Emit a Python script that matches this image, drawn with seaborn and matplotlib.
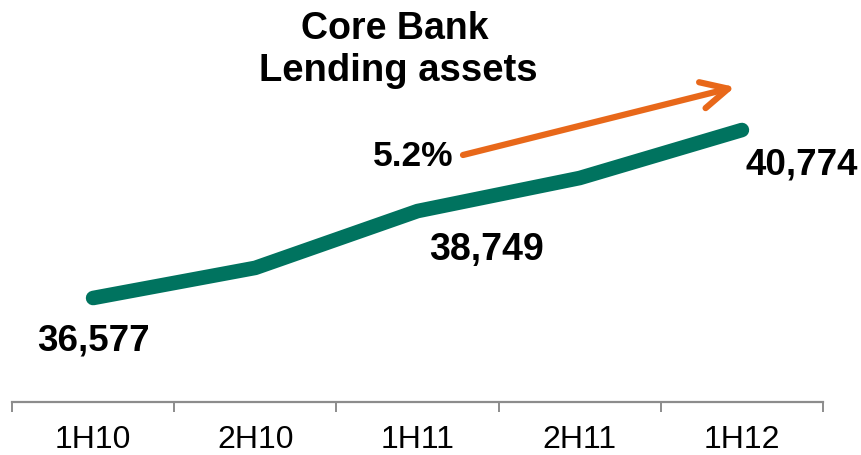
import matplotlib
matplotlib.use("Agg")
import matplotlib.pyplot as plt
import seaborn as sns
import pandas as pd

# Core bank lending assets by half-year
periods = ["1H10", "2H10", "1H11", "2H11", "1H12"]
lending = [36577, 37330, 38749, 39575, 40774]
labelled = {0: "36,577", 2: "38,749", 4: "40,774"}
growth_label = "5.2%"
title_lines = ["Core Bank", "Lending assets"]

TEAL = "#00735F"
ORANGE = "#E8681A"

sns.set_theme(style="white")
plt.rcParams["font.family"] = ["Liberation Sans", "DejaVu Sans"]

W, H = 862, 456
AXIS_Y = 403
fig = plt.figure(figsize=(W / 100, H / 100), dpi=100)
ax = fig.add_axes([12 / W, (H - AXIS_Y) / H, 811 / W, AXIS_Y / H])

df = pd.DataFrame({"period": periods, "lending": lending, "x": range(len(periods))})
sns.lineplot(data=df, x="x", y="lending", ax=ax, color=TEAL, linewidth=10.5,
             solid_capstyle="round", solid_joinstyle="round", legend=False)

ax.set_xlim(-0.5, len(periods) - 0.5)
ax.set_ylim(33979, 44047)
ax.set_xlabel("")
ax.set_ylabel("")
ax.set_yticks([])

# category labels centred, tick marks on category boundaries
ax.set_xticks(range(len(periods)))
ax.set_xticklabels(periods, fontsize=23)
ax.tick_params(axis="x", which="major", bottom=False, length=0, pad=15.5,
               labelcolor="black")
ax.set_xticks([i - 0.5 for i in range(len(periods) + 1)], minor=True)
ax.tick_params(axis="x", which="minor", bottom=True, length=7, width=1.4,
               color="#8C8C8C", direction="out")

for side in ["top", "right", "left"]:
    ax.spines[side].set_visible(False)
ax.spines["bottom"].set_color("#8C8C8C")
ax.spines["bottom"].set_linewidth(1.6)

# value labels
offsets = {0: (0, -30), 2: (50, -27.5), 4: (43, -24.5)}
sizes = {0: 26.5, 2: 27, 4: 26.5}
for i, txt in labelled.items():
    ax.annotate(txt, xy=(i, lending[i]), xytext=offsets[i], textcoords="offset points",
                ha="center", va="center", fontsize=sizes[i], fontweight="bold",
                color="black")

def fx(px):
    return px / W

def fy(py):
    return 1 - py / H

# growth arrow and rate
ax.annotate("", xy=(fx(735), fy(88)), xytext=(fx(463), fy(156)),
            xycoords="figure fraction", textcoords="figure fraction",
            arrowprops=dict(arrowstyle="->,head_length=1.6,head_width=0.8",
                            color=ORANGE, lw=4.5, capstyle="round",
                            joinstyle="round", shrinkA=0, shrinkB=0))
fig.text(fx(413.5), fy(157), growth_label, ha="center", va="center",
         fontsize=25.5, fontweight="bold", color="black")

# title
fig.text(fx(395), fy(29), title_lines[0], ha="center", va="center",
         fontsize=27, fontweight="bold", color="black")
fig.text(fx(398.5), fy(71), title_lines[1], ha="center", va="center",
         fontsize=27.5, fontweight="bold", color="black")

fig.savefig("out.png", dpi=100, facecolor="white")
